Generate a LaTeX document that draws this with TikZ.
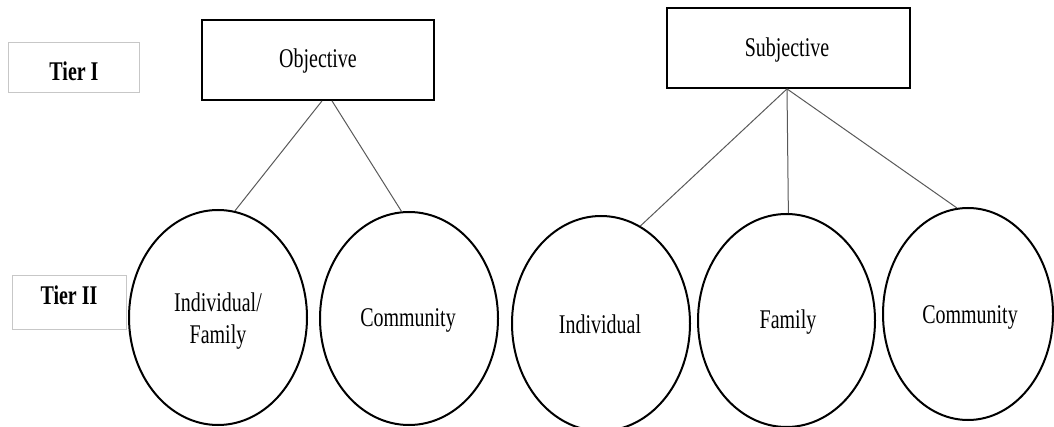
\documentclass[tikz,border=0pt]{standalone}
\usepackage{fontspec}
\setmainfont{Liberation Serif}
\usepackage{graphicx}
\usetikzlibrary{shapes.geometric}
\newcommand{\sq}[1]{\scalebox{0.74}[1]{#1}}
\tikzset{
  txt/.style={inner sep=0pt, font=\fontsize{27}{32}\selectfont, align=center},
  tierbox/.style={draw=black!22, line width=1pt, inner sep=0pt},
  mainbox/.style={draw=black, line width=1.8pt, inner sep=0pt},
  oval/.style={draw=black, line width=2pt, ellipse, inner sep=0pt},
  conn/.style={draw=black!65, line width=1pt}
}
\begin{document}
\begin{tikzpicture}[x=1pt,y=-1pt]
\useasboundingbox (0,0) rectangle (1054,427);
% tier boxes
\node[tierbox, minimum width=131pt, minimum height=50pt] (t1box) at (73.5,68) {};
\node[txt] (t1) at (74,71) {\sq{\textbf{Tier I}}};
\node[tierbox, minimum width=114pt, minimum height=54pt] (t2box) at (69,303) {};
\node[txt] (t2) at (69,295) {\sq{\textbf{Tier II}}};
% top boxes
\node[mainbox, minimum width=232pt, minimum height=80pt] (obj) at (318,60) {};
\node[txt] (objt) at (318,61) {\sq{Objective}};
\node[mainbox, minimum width=243pt, minimum height=80pt] (subj) at (788.5,48) {};
\node[txt] (subjt) at (787,50) {\sq{Subjective}};
% ellipses
\node[oval, minimum width=178pt, minimum height=215pt] (e1) at (218,317.5) {};
\node[txt] (e1t) at (218,321) {\sq{\begin{tabular}{@{}c@{}}Individual/\\Family\end{tabular}}};
\node[oval, minimum width=178pt, minimum height=213pt] (e2) at (409,318.5) {};
\node[txt] (e2t) at (408,320) {\sq{Community}};
\node[oval, minimum width=178pt, minimum height=215pt] (e3) at (601,323.5) {};
\node[txt] (e3t) at (600,324) {\sq{Individual}};
\node[oval, minimum width=177pt, minimum height=213pt] (e4) at (786.5,320.5) {};
\node[txt] (e4t) at (788,322) {\sq{Family}};
\node[oval, minimum width=170pt, minimum height=212pt] (e5) at (968,314) {};
\node[txt] (e5t) at (970,317) {\sq{Community}};
% connectors
\coordinate (o1) at ([xshift=4pt]obj.south);
\coordinate (o2) at ([xshift=14pt]obj.south);
\coordinate (s0) at ([xshift=-1.5pt]subj.south);
\draw[conn] (o1) -- (e1.81);
\draw[conn] (o2) -- (e2.94);
\draw[conn] (s0) -- (e3.68);
\draw[conn] (s0) -- (e4.89);
\draw[conn] (s0) -- (e5.96);
\end{tikzpicture}
\end{document}
